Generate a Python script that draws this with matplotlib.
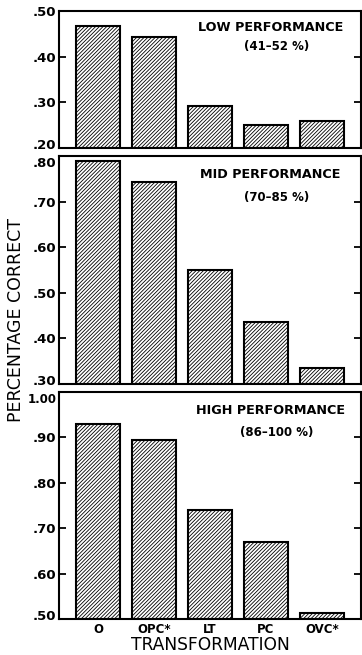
import matplotlib
matplotlib.use("Agg")
import matplotlib.pyplot as plt
from matplotlib.transforms import ScaledTranslation

# transformations on the x axis
categories = ["O", "OPC*", "LT", "PC", "OVC*"]

# proportion correct
low_values = [0.467, 0.444, 0.291, 0.251, 0.260]
mid_values = [0.789, 0.743, 0.549, 0.437, 0.334]
high_values = [0.929, 0.894, 0.740, 0.669, 0.514]

panel_titles = ["LOW PERFORMANCE", "MID PERFORMANCE", "HIGH PERFORMANCE"]
panel_ranges = ["(41\u201352 %)", "(70\u201385 %)", "(86\u2013100 %)"]
panel_ylims = [(0.20, 0.50), (0.30, 0.80), (0.50, 1.00)]
low_ticks = [0.20, 0.30, 0.40, 0.50]
mid_ticks = [0.30, 0.40, 0.50, 0.60, 0.70, 0.80]
high_ticks = [0.50, 0.60, 0.70, 0.80, 0.90, 1.00]
low_ticklabels = [".20", ".30", ".40", ".50"]
mid_ticklabels = [".30", ".40", ".50", ".60", ".70", ".80"]
high_ticklabels = [".50", ".60", ".70", ".80", ".90", "1.00"]

plt.rcParams["font.family"] = ["DejaVu Sans"]
plt.rcParams["hatch.linewidth"] = 0.6

fig = plt.figure(figsize=(3.62, 6.55), dpi=100)

W, H = 362.0, 655.0
left, right = 59, 361
# (top, bottom) of each panel in pixels
boxes = [(11, 148), (156, 384), (392, 619)]

panels = [
    (low_values, low_ticks, low_ticklabels),
    (mid_values, mid_ticks, mid_ticklabels),
    (high_values, high_ticks, high_ticklabels),
]

x = list(range(len(categories)))

for i, (vals, ticks, labels) in enumerate(panels):
    top, bottom = boxes[i]
    ax = fig.add_axes([left / W, 1 - bottom / H, (right - left) / W, (bottom - top) / H])
    lo, hi = panel_ylims[i]
    heights = [v - lo for v in vals]
    ax.bar(x, heights, bottom=lo, width=0.79, color="white", edgecolor="black",
           linewidth=1.5, hatch="/////////")
    ax.set_xlim(-0.7, 4.7)
    ax.set_ylim(lo, hi)
    ax.set_yticks(ticks)
    ax.set_yticklabels(labels, fontsize=9.5, fontweight="bold")
    ax.tick_params(axis="y", direction="in", length=5, width=1.3, right=True, pad=2)
    # nudge the end labels inward so neighbouring panels do not collide
    tl = ax.get_yticklabels()
    tl[0].set_transform(tl[0].get_transform() + ScaledTranslation(0, 4 / 100, fig.dpi_scale_trans))
    if i > 0:
        tl[-1].set_transform(tl[-1].get_transform() + ScaledTranslation(0, -6 / 100, fig.dpi_scale_trans))
    if i == 2:
        tl[-1].set_fontsize(8.5)
    for s in ax.spines.values():
        s.set_linewidth(1.5)
    if i < 2:
        ax.set_xticks([])
    else:
        ax.set_xticks(x)
        ax.set_xticklabels(categories, fontsize=8.5, fontweight="bold")
        ax.tick_params(axis="x", length=0, pad=3)
        ax.set_xlabel("TRANSFORMATION", fontsize=12.3, labelpad=0)
    ax.text(0.70, 0.88 if i == 0 else 0.92, panel_titles[i], transform=ax.transAxes,
            ha="center", va="center", fontsize=9.2, fontweight="bold")
    ax.text(0.72, 0.74 if i == 0 else 0.82, panel_ranges[i], transform=ax.transAxes,
            ha="center", va="center", fontsize=8.5, fontweight="bold")

fig.text(16 / W, 1 - 320 / H, "PERCENTAGE CORRECT", rotation=90, ha="center",
         va="center", fontsize=12.5)

fig.savefig("out.png", dpi=100)
